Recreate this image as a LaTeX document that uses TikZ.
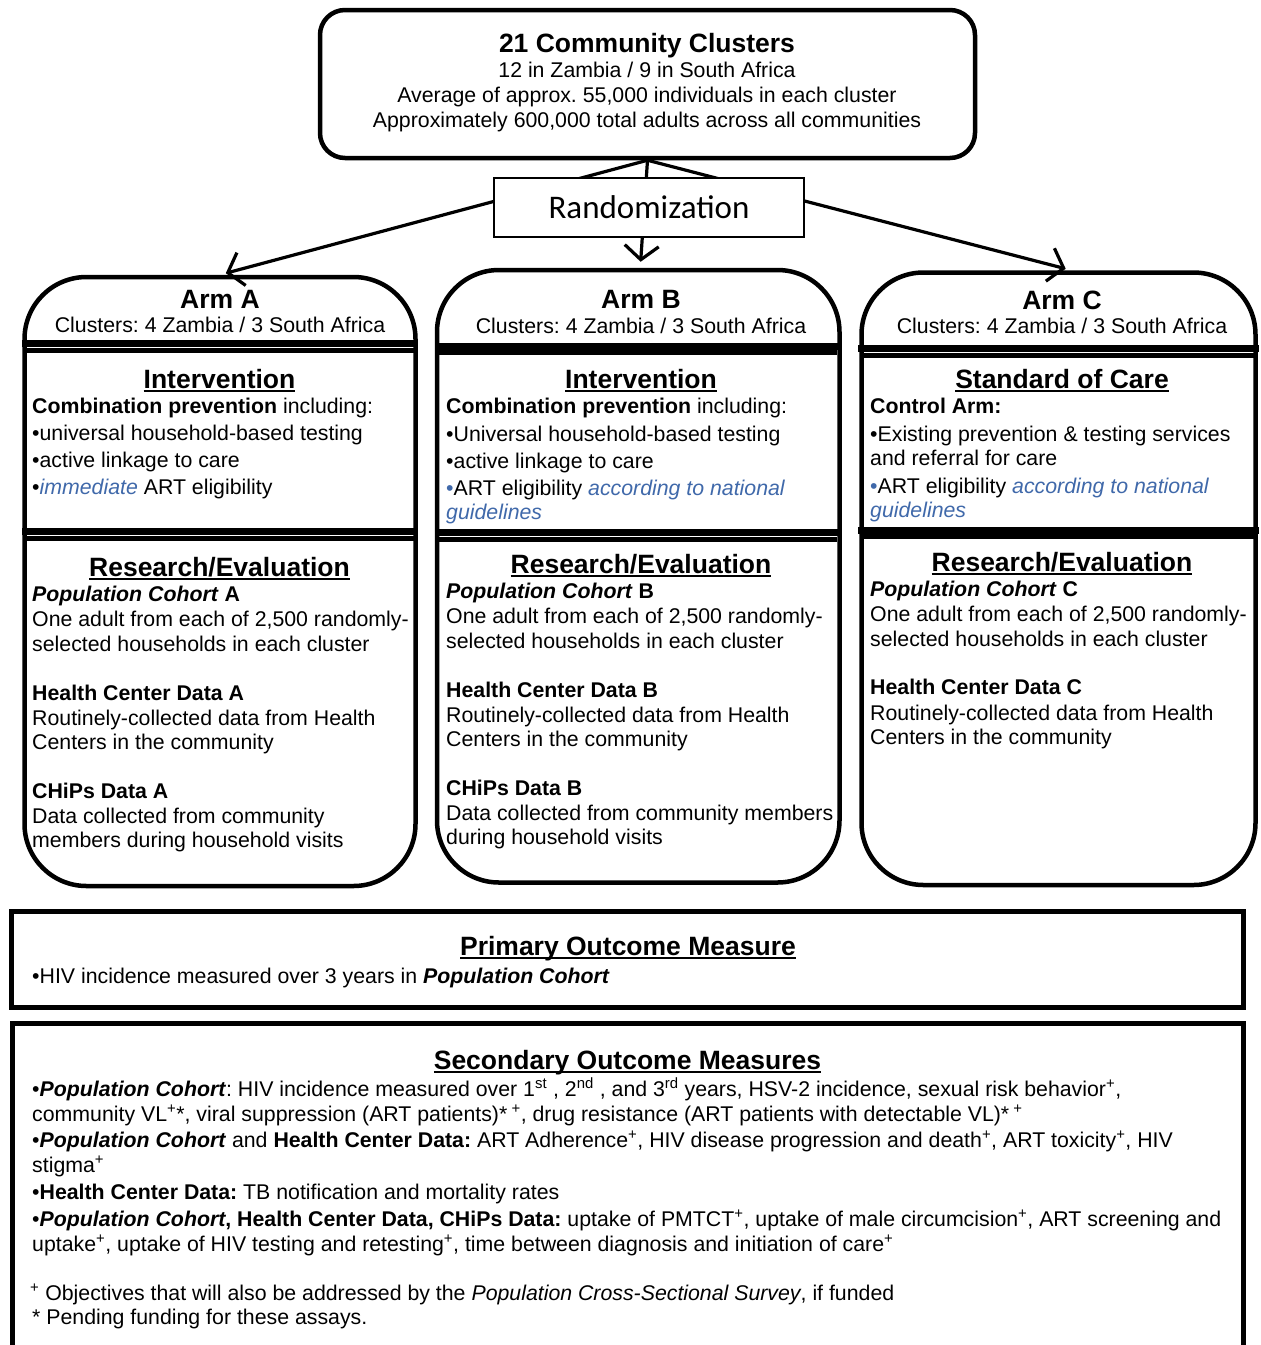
\documentclass[tikz,border=0pt]{standalone}
\usepackage{fontspec}
\setmainfont{Liberation Sans}
\newfontfamily\calib{Carlito}
\usetikzlibrary{arrows.meta,calc}
\definecolor{artblue}{RGB}{64,105,170}
\definecolor{shade}{RGB}{160,160,160}
\newcommand{\myul}[1]{\setbox0\hbox{#1}\rlap{\rule[-3.5pt]{\wd0}{2pt}}\box0}
\frenchspacing
\tikzset{
  txt/.style={inner sep=0pt, anchor=base west, font=\fontsize{21.3}{25}\selectfont},
  ctr/.style={inner sep=0pt, anchor=base, font=\fontsize{21.3}{25}\selectfont},
  hd/.style={inner sep=0pt, anchor=base, font=\fontsize{26.5}{30}\selectfont\bfseries},
  armbox/.style={draw, line width=4.5pt, rounded corners=62pt, fill=white},
  conn/.style={line width=3.2pt, -{Straight Barb[length=14pt,width=34pt,line width=3.2pt]}, shorten >=6pt},
  blackbar/.style={line width=7pt},
  graybar/.style={line width=5pt, shade},
}
\begin{document}
\begin{tikzpicture}[x=1pt,y=-1pt]
\useasboundingbox (0,0) rectangle (1261,1345);

% top box
\node[draw, line width=4.5pt, rounded corners=25pt, minimum width=655pt, minimum height=148pt, inner sep=0pt] (top) at (647.5,84) {};
\node[hd] (t0) at (647,52.5) {21 Community Clusters};
\node[ctr] (t1) at (647,77.5) {12 in Zambia / 9 in South Africa};
\node[ctr] (t2) at (647,102.5) {Average of approx. 55,000 individuals in each cluster};
\node[ctr] (t3) at (647,127.5) {Approximately 600,000 total adults across all communities};

% arm boxes
\node[armbox, minimum width=391pt, minimum height=609pt, inner sep=0pt] (armA) at (220,581.5) {};
\node[armbox, minimum width=402.5pt, minimum height=612.5pt, inner sep=0pt] (armB) at (638.25,576.25) {};
\node[armbox, minimum width=394pt, minimum height=612.5pt, inner sep=0pt] (armC) at (1058.5,578.75) {};

% connectors
\draw[conn] (top.south) -- (armA.north);
\draw[conn] (top.south) -- ($(armB.north)+(2pt,0)$);
\draw[conn] (top.south) -- ($(armC.north)+(13pt,0)$);

% randomization
\node[draw, fill=white, line width=1.5pt, minimum width=310pt, minimum height=59pt, inner sep=0pt, font=\calib\fontsize{33}{38}\selectfont] (rand) at (649,207.5) {Randomization};

% separator bars
\draw[graybar] (26,350) -- (414,350);
\draw[blackbar] (22,343.5) -- (418,343.5);
\draw[graybar] (26,538) -- (414,538);
\draw[blackbar] (22,531.5) -- (418,531.5);

\draw[graybar] (439,352.5) -- (837,352.5);
\draw[blackbar] (435,346) -- (842,346);
\draw[graybar] (439,539) -- (837,539);
\draw[blackbar] (435,532) -- (842,532);

\draw[graybar] (864,355) -- (1254,355);
\draw[blackbar] (858,348) -- (1259,348);
\draw[graybar] (864,536) -- (1254,536);
\draw[blackbar] (858,530) -- (1259,530);

% Arm A text
\node[hd] (aT) at (220,308.5) {Arm A};
\node[ctr] (aC) at (220,332.5) {Clusters: 4 Zambia / 3 South Africa};
\node[hd] (aI) at (219.5,388.4) {\myul{Intervention}};
\node[txt] (a1) at (32,413.5) {\textbf{Combination prevention} including:};
\node[txt] (a2) at (32,440.5) {•universal household-based testing};
\node[txt] (a3) at (32,467.5) {•active linkage to care};
\node[txt] (a4) at (32,494.5) {•\textcolor{artblue}{\textit{immediate}} ART eligibility};
\node[hd] (aR) at (219.5,576.4) {\myul{Research/Evaluation}};
\node[txt] (a5) at (32,601.5) {\textbf{\textit{Population Cohort} A}};
\node[txt] (a6) at (32,626.5) {One adult from each of 2,500 randomly-};
\node[txt] (a7) at (32,651.5) {selected households in each cluster};
\node[txt] (a8) at (32,700.5) {\textbf{Health Center Data A}};
\node[txt] (a9) at (32,725.5) {Routinely-collected data from Health};
\node[txt] (a10) at (32,749.5) {Centers in the community};
\node[txt] (a11) at (32,798.5) {\textbf{CHiPs Data A}};
\node[txt] (a12) at (32,823.5) {Data collected from community};
\node[txt] (a13) at (32,847.5) {members during household visits};

% Arm B text
\node[hd] (bT) at (641,308.5) {Arm B};
\node[ctr] (bC) at (641,333.5) {Clusters: 4 Zambia / 3 South Africa};
\node[hd] (bI) at (641,388.4) {\myul{Intervention}};
\node[txt] (b1) at (446,413.5) {\textbf{Combination prevention} including:};
\node[txt] (b2) at (446,441.5) {•Universal household-based testing};
\node[txt] (b3) at (446,468.5) {•active linkage to care};
\node[txt] (b4) at (446,495.5) {\textcolor{artblue}{•}ART eligibility \textcolor{artblue}{\textit{according to national}}};
\node[txt] (b4b) at (446,519.5) {\textcolor{artblue}{\textit{guidelines}}};
\node[hd] (bR) at (641,573.4) {\myul{Research/Evaluation}};
\node[txt] (b5) at (446,598.5) {\textbf{\textit{Population Cohort} B}};
\node[txt] (b6) at (446,623.5) {One adult from each of 2,500 randomly-};
\node[txt] (b7) at (446,648.5) {selected households in each cluster};
\node[txt] (b8) at (446,697.5) {\textbf{Health Center Data B}};
\node[txt] (b9) at (446,722.5) {Routinely-collected data from Health};
\node[txt] (b10) at (446,746.5) {Centers in the community};
\node[txt] (b11) at (446,795.5) {\textbf{CHiPs Data B}};
\node[txt] (b12) at (446,820.5) {Data collected from community members};
\node[txt] (b13) at (446,844.5) {during household visits};

% Arm C text
\node[hd] (cT) at (1062,309.5) {Arm C};
\node[ctr] (cC) at (1062,333.5) {Clusters: 4 Zambia / 3 South Africa};
\node[hd] (cI) at (1062,388.4) {\myul{Standard of Care}};
\node[txt] (c1) at (870,413.5) {\textbf{Control Arm:}};
\node[txt] (c2) at (870,441.5) {•Existing prevention \& testing services};
\node[txt] (c3) at (870,465.5) {and referral for care};
\node[txt] (c4) at (870,493.5) {\textcolor{artblue}{•}ART eligibility \textcolor{artblue}{\textit{according to national}}};
\node[txt] (c4b) at (870,517.5) {\textcolor{artblue}{\textit{guidelines}}};
\node[hd] (cR) at (1062,571.4) {\myul{Research/Evaluation}};
\node[txt] (c5) at (870,596.5) {\textbf{\textit{Population Cohort} C}};
\node[txt] (c6) at (870,621.5) {One adult from each of 2,500 randomly-};
\node[txt] (c7) at (870,646.5) {selected households in each cluster};
\node[txt] (c8) at (870,694.5) {\textbf{Health Center Data C}};
\node[txt] (c9) at (870,720.5) {Routinely-collected data from Health};
\node[txt] (c10) at (870,744.5) {Centers in the community};

% primary outcome
\draw[line width=5pt] (11.5,911.5) rectangle (1243,1007.5);
\node[hd] (pT) at (628,955.4) {\myul{Primary Outcome Measure}};
\node[txt] (p1) at (32,983.5) {•HIV incidence measured over 3 years in \textbf{\textit{Population Cohort}}};

% secondary outcome
\draw[line width=5pt] (12.5,1355) -- (12.5,1023.5) -- (1243,1023.5) -- (1243,1355);
\node[hd] (sT) at (627.5,1069.4) {\myul{Secondary Outcome Measures}};
\node[txt] (s1) at (32,1096.5) {•\textbf{\textit{Population Cohort}}: HIV incidence measured over 1\textsuperscript{st} , 2\textsuperscript{nd} , and 3\textsuperscript{rd} years, HSV-2 incidence, sexual risk behavior\textsuperscript{+},};
\node[txt] (s2) at (32,1121.5) {community VL\textsuperscript{+}*, viral suppression (ART patients)*\textsuperscript{ +}, drug resistance (ART patients with detectable VL)*\textsuperscript{ +}};
\node[txt] (s3) at (32,1147.5) {•\textbf{\textit{Population Cohort}} and \textbf{Health Center Data:} ART Adherence\textsuperscript{+}, HIV disease progression and death\textsuperscript{+}, ART toxicity\textsuperscript{+}, HIV};
\node[txt] (s4) at (32,1172.5) {stigma\textsuperscript{+}};
\node[txt] (s5) at (32,1199.5) {•\textbf{Health Center Data:} TB notification and mortality rates};
\node[txt] (s6) at (32,1226.5) {•\textbf{\textit{Population Cohort}, Health Center Data, CHiPs Data:} uptake of PMTCT\textsuperscript{+}, uptake of male circumcision\textsuperscript{+}, ART screening and};
\node[txt] (s7) at (32,1251.5) {uptake\textsuperscript{+}, uptake of HIV testing and retesting\textsuperscript{+}, time between diagnosis and initiation of care\textsuperscript{+}};
\node[txt] (f1) at (30,1300.5) {\textsuperscript{+} Objectives that will also be addressed by the \textit{Population Cross-Sectional Survey}, if funded};
\node[txt] (f2) at (32,1324.5) {* Pending funding for these assays.};
\end{tikzpicture}
\end{document}
